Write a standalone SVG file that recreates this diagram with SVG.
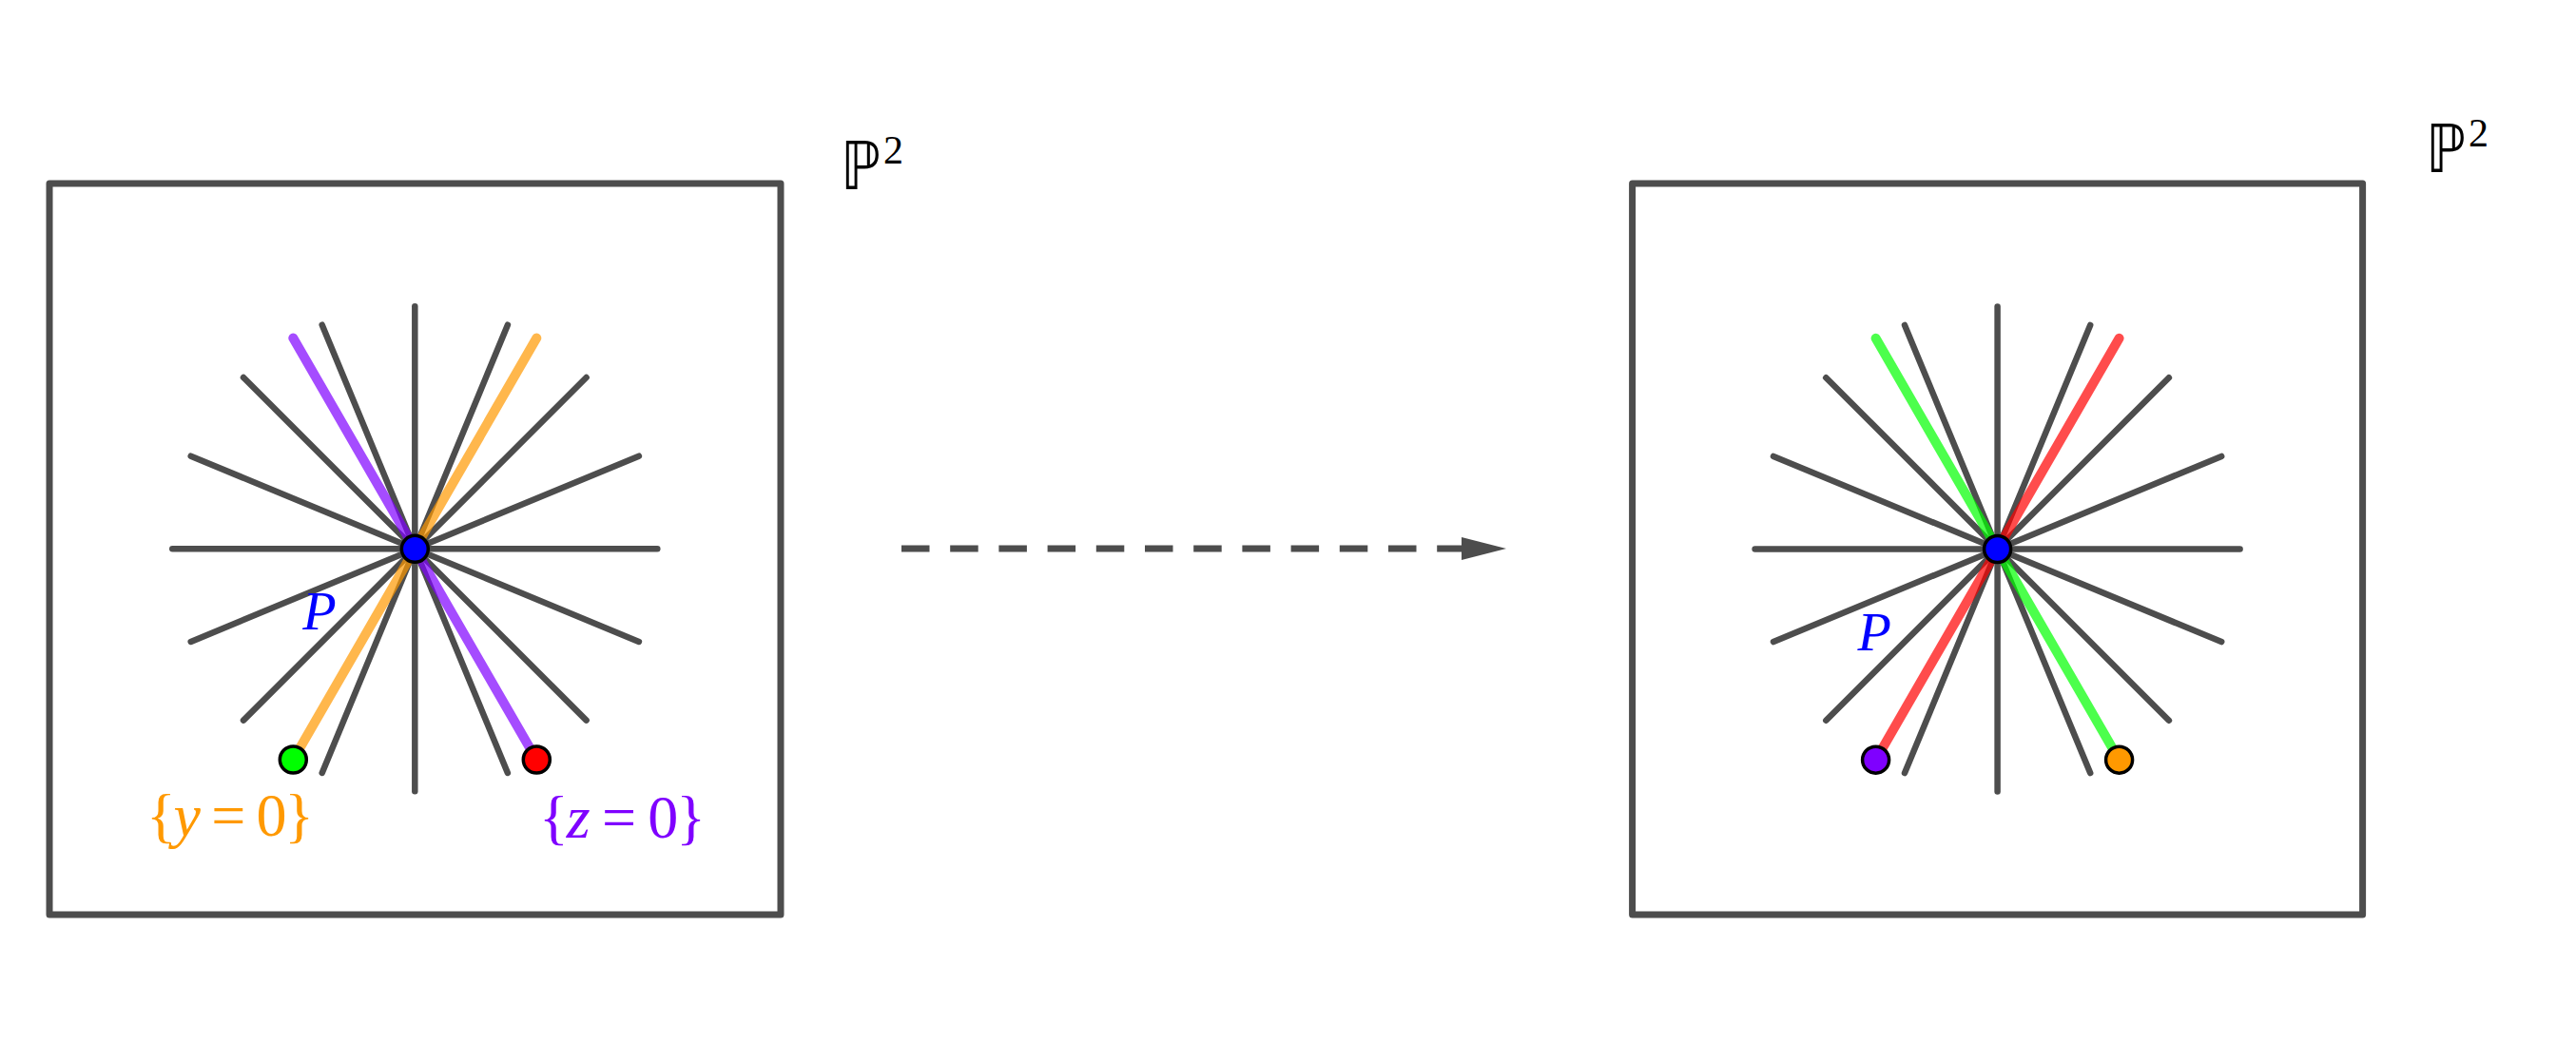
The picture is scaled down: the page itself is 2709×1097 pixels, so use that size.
<svg xmlns="http://www.w3.org/2000/svg" xmlns:xlink="http://www.w3.org/1999/xlink" width="2709" height="1097" viewBox="0 0 2709 1097">
  <style>
    .frame { fill: none; stroke: #4d4d4d; stroke-width: 7; stroke-linejoin: round; }
    .ray { stroke: #4d4d4d; stroke-width: 6.5; stroke-linecap: round; }
    .hl { stroke-width: 10; stroke-linecap: round; stroke-opacity: 0.7; }
    .pt { stroke: #000; stroke-width: 3.5; }
    .math { font-family: "Liberation Serif", "DejaVu Serif", serif; }
    .bb { font-family: "DejaVu Sans", "DejaVu Serif", sans-serif; font-size: 70px; fill: #000; }
    .sup { font-family: "Liberation Serif", "DejaVu Serif", serif; font-size: 42px; fill: #000; }
    .plabel { font-family: "Liberation Serif", "DejaVu Serif", serif; font-style: italic; font-size: 58px; fill: #0000ff; }
  </style>
  <defs>
    <g id="star">
      <line class="ray" x1="-255" y1="0" x2="255" y2="0"/>
      <line class="ray" x1="-235.6" y1="-97.6" x2="235.6" y2="97.6"/>
      <line class="ray" x1="-235.6" y1="97.6" x2="235.6" y2="-97.6"/>
      <line class="ray" x1="-180.3" y1="-180.3" x2="180.3" y2="180.3"/>
      <line class="ray" x1="-180.3" y1="180.3" x2="180.3" y2="-180.3"/>
      <line class="ray" x1="-97.6" y1="-235.6" x2="97.6" y2="235.6"/>
      <line class="ray" x1="-97.6" y1="235.6" x2="97.6" y2="-235.6"/>
      <line class="ray" x1="0" y1="-255" x2="0" y2="255"/>
    </g>
    <marker id="arrowhead" markerUnits="userSpaceOnUse" markerWidth="48" markerHeight="26" refX="4" refY="12" orient="auto">
      <path d="M0,0 L47,12 L0,24 Z" fill="#4d4d4d"/>
    </marker>
  </defs>
  <rect width="2709" height="1097" fill="#ffffff"/>

  <g id="left-plane">
    <rect class="frame" x="52" y="193" width="769" height="769"/>
    <text class="bb" x="884" y="199" textLength="42" lengthAdjust="spacingAndGlyphs">ℙ</text>
    <text class="sup" x="929" y="172">2</text>
  </g>
  <g id="left-pencil" transform="translate(436.3,577.3)">
    <use xlink:href="#star" href="#star"/>
    <line class="hl" stroke="#7f00ff" x1="-128" y1="-221.7" x2="128" y2="221.7"/>
    <line class="hl" stroke="#ff9900" x1="128" y1="-221.7" x2="-128" y2="221.7"/>
    <circle class="pt" cx="-128" cy="221.7" r="14" fill="#00ff00"/>
    <circle class="pt" cx="128" cy="221.7" r="14" fill="#ff0000"/>
    <circle class="pt" cx="0" cy="0" r="14" fill="#0000ff"/>
    <text class="plabel" x="-118" y="85">P</text>
  </g>
  <g id="left-labels" class="math" font-size="64">
    <text x="154" y="879" fill="#ff9900" textLength="176" lengthAdjust="spacing">{<tspan font-style="italic">y</tspan> = 0}</text>
    <text x="567" y="881" fill="#7f00ff" textLength="175" lengthAdjust="spacing">{<tspan font-style="italic">z</tspan> = 0}</text>
  </g>

  <g id="right-plane">
    <rect class="frame" x="1716.6" y="193" width="768" height="769"/>
    <text class="bb" x="2551" y="181" textLength="42" lengthAdjust="spacingAndGlyphs">ℙ</text>
    <text class="sup" x="2596" y="154">2</text>
  </g>
  <g id="right-pencil" transform="translate(2100.6,577.5)">
    <use xlink:href="#star" href="#star"/>
    <line class="hl" stroke="#00ff00" x1="-128" y1="-221.7" x2="128" y2="221.7"/>
    <line class="hl" stroke="#ff0000" x1="128" y1="-221.7" x2="-128" y2="221.7"/>
    <circle class="pt" cx="-128" cy="221.7" r="14" fill="#7f00ff"/>
    <circle class="pt" cx="128" cy="221.7" r="14" fill="#ff9900"/>
    <circle class="pt" cx="0" cy="0" r="14" fill="#0000ff"/>
    <text class="plabel" x="-147" y="106.5">P</text>
  </g>

  <g id="connectors">
    <line x1="948" y1="577" x2="1541" y2="577" stroke="#4d4d4d" stroke-width="7" stroke-dasharray="29.5 21.7" marker-end="url(#arrowhead)"/>
  </g>
</svg>
